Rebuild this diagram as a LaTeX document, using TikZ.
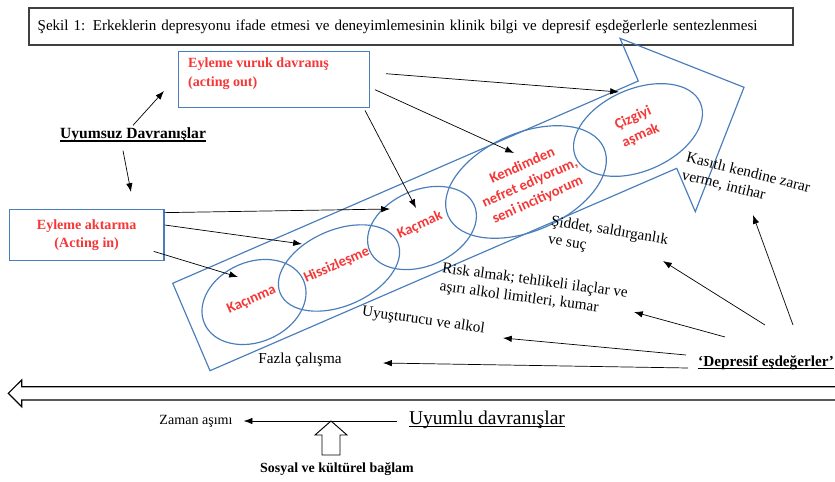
\documentclass[tikz,border=0pt]{standalone}
\usepackage{fontspec}
\setmainfont{Liberation Serif}
\newfontfamily\calibri{Carlito}
\usetikzlibrary{arrows.meta,shapes.geometric}
\definecolor{shapeblue}{RGB}{74,126,187}
\definecolor{labelred}{RGB}{245,55,55}
% underline with a heavier rule
\newcommand\undl[1]{\setbox0=\hbox{#1}\rlap{\rule[-2.4pt]{\wd0}{0.9pt}}\box0}
\tikzset{
  blueline/.style={draw=shapeblue, line width=1pt},
  oval/.style={ellipse, blueline, inner sep=0pt},
  redbox/.style={rectangle, draw=shapeblue, line width=1.2pt},
  redtxt/.style={text=labelred, font=\fontsize{12}{15.4}\selectfont\bfseries},
  ovaltxt/.style={text=labelred, font=\calibri\fontsize{12.5}{16}\selectfont\bfseries, align=center, rotate=24, inner sep=0pt},
  note/.style={font=\fontsize{13}{15.5}\selectfont, align=left, inner sep=0pt},
  conn/.style={->, line width=0.6pt},
}
\begin{document}
\begin{tikzpicture}[x=0.03cm, y=-0.03cm, >={Latex[length=7.5pt,width=5.5pt]}]
  \useasboundingbox (0,0) rectangle (835,482);
  % Baslik
  \node[draw=black!75, line width=1pt, minimum width=22.92cm, minimum height=1.11cm,
        text width=22.4cm, inner xsep=0.26cm, align=left,
        font=\fontsize{12.85}{14}\selectfont] (title) at (411,26.5)
    {Şekil 1: Erkeklerin depresyonu ifade etmesi ve deneyimlemesinin klinik bilgi ve depresif eşdeğerlerle sentezlenmesi};
  % Buyuk ok
  \draw[blueline, line join=miter] (172.7,283.3) -- (638.3,81) -- (620,38.3) -- (744,87.3)
    -- (695.3,211.7) -- (676.7,168.3) -- (210,370.7) -- cycle;
  % Elipsler
  \node[oval, minimum width=3.24cm, minimum height=2.4cm, rotate=23.5] (kacinma) at (254,302) {};
  \node[oval, minimum width=3.84cm, minimum height=2.28cm, rotate=23.5] (hissiz) at (339,268) {};
  \node[oval, minimum width=3.42cm, minimum height=2.28cm, rotate=23.5] (kacmak) at (422,228) {};
  \node[oval, minimum width=5.1cm, minimum height=2.94cm, rotate=23.5] (kendim) at (526,182) {};
  \node[oval, minimum width=4.08cm, minimum height=2.46cm, rotate=23.5] (cizgi) at (638,130) {};
  \node[ovaltxt] (kacinmaT) at (251.7,300) {Kaçınma};
  \node[ovaltxt] (hissizT) at (336.7,265) {Hissizleşme};
  \node[ovaltxt] (kacmakT) at (420,225) {Kaçmak};
  \node[ovaltxt] (kendimT) at (530,183) {Kendimden\\nefret ediyorum,\\seni incitiyorum};
  \node[ovaltxt] (cizgiT) at (637,127) {Çizgiyi\\aşmak};
  % Kutular
  \node[redbox, minimum width=5.73cm, minimum height=1.68cm] (vuruk) at (273.8,79.7) {};
  \node[redtxt, align=left, anchor=north west, inner sep=0pt] (vurukT) at (188,58)
    {Eyleme vuruk davranış\\(acting out)};
  \node[redbox, redtxt, align=center, minimum width=4.64cm, minimum height=1.54cm] (aktarma)
    at (86.7,235) {Eyleme aktarma\\(Acting in)};
  \node[font=\fontsize{13.3}{15}\selectfont\bfseries, inner sep=2pt] (uyumsuz) at (133,135)
    {\undl{Uyumsuz Davranışlar}};
  % Depresif esdegerler
  \node[note, rotate=-14, anchor=north west] (kasitli) at (688,151) {Kasıtlı kendine zarar\\verme, intihar};
  \node[note, rotate=-9, anchor=north west] (siddet) at (552,215) {Şiddet, saldırganlık\\ve suç};
  \node[note, rotate=-7.6, anchor=north west] (risk) at (443,262) {Risk almak; tehlikeli ilaçlar ve\\aşırı alkol limitleri, kumar};
  \node[note, rotate=-8, anchor=north west] (uyus) at (363,305) {Uyuşturucu ve alkol};
  \node[note] (fazla) at (300,360) {Fazla çalışma};
  \node[font=\fontsize{13}{15}\selectfont\bfseries, anchor=west, inner sep=0pt] (depresif)
    at (698,363) {\undl{‘Depresif eşdeğerler’}};
  % Uyumlu davranislar
  \draw[line width=1pt, line join=miter] (835,386.7) -- (21.7,386.7) -- (21.7,380) -- (8.3,393.3)
    -- (21.7,406.7) -- (21.7,400) -- (835,400);
  \node[font=\fontsize{12}{14}\selectfont] (zaman) at (196,421) {Zaman aşımı};
  \node[font=\fontsize{16.7}{18}\selectfont] (uyumlu) at (487,420) {\undl{Uyumlu davranışlar}};
  \draw[line width=0.8pt, line join=miter] (331,421) -- (347,435) -- (340,435) -- (340,455)
    -- (322,455) -- (322,435) -- (315,435) -- cycle;
  \node[font=\fontsize{11.9}{14}\selectfont\bfseries] (sosyal) at (337,469) {Sosyal ve kültürel bağlam};
  % Ok uclari
  \coordinate (vurukIn) at (164,91);
  \coordinate (aktarmaIn) at (131,192);
  \coordinate (cizgiIn) at (619,92);
  \coordinate (kendimIn) at (514,153);
  \coordinate (kacmakIn) at (416,208);
  \coordinate (kacmakIn2) at (390,209);
  \coordinate (hissizIn) at (302,244);
  \coordinate (kacinmaIn) at (238,277);
  \coordinate (kasitliIn) at (753,215);
  \coordinate (siddetIn) at (663,261);
  \coordinate (riskIn) at (634,312);
  \coordinate (uyusIn) at (503,338);
  \coordinate (fazlaIn) at (383,363);
  % Oklar
  \draw[conn] (uyumsuz.north) -- (vurukIn);
  \draw[conn] ([shift={(-10,6)}]uyumsuz.south) -- (aktarmaIn);
  \draw[conn] ([shift={(16,-6)}]vuruk.east) -- (cizgiIn);
  \draw[conn] ([shift={(5,10)}]vuruk.east) -- (kendimIn);
  \draw[conn] ([shift={(-5,2)}]vuruk.south east) -- (kacmakIn);
  \draw[conn] ([shift={(0,4)}]aktarma.north east) -- (kacmakIn2);
  \draw[conn] ([shift={(0,-10)}]aktarma.east) -- (hissizIn);
  \draw[conn] ([shift={(-11,-10)}]aktarma.south east) -- (kacinmaIn);
  \draw[conn] ([shift={(95,-38)}]depresif.west) -- (kasitliIn);
  \draw[conn] ([shift={(67,-38)}]depresif.west) -- (siddetIn);
  \draw[conn] ([shift={(27,-26)}]depresif.west) -- (riskIn);
  \draw[conn] ([shift={(-12,-8)}]depresif.west) -- (uyusIn);
  \draw[conn] ([shift={(-10,5)}]depresif.west) -- (fazlaIn);
  \draw[conn] ([shift={(-8,1)}]uyumlu.west) -- ([shift={(7,0)}]zaman.east);
\end{tikzpicture}
\end{document}
